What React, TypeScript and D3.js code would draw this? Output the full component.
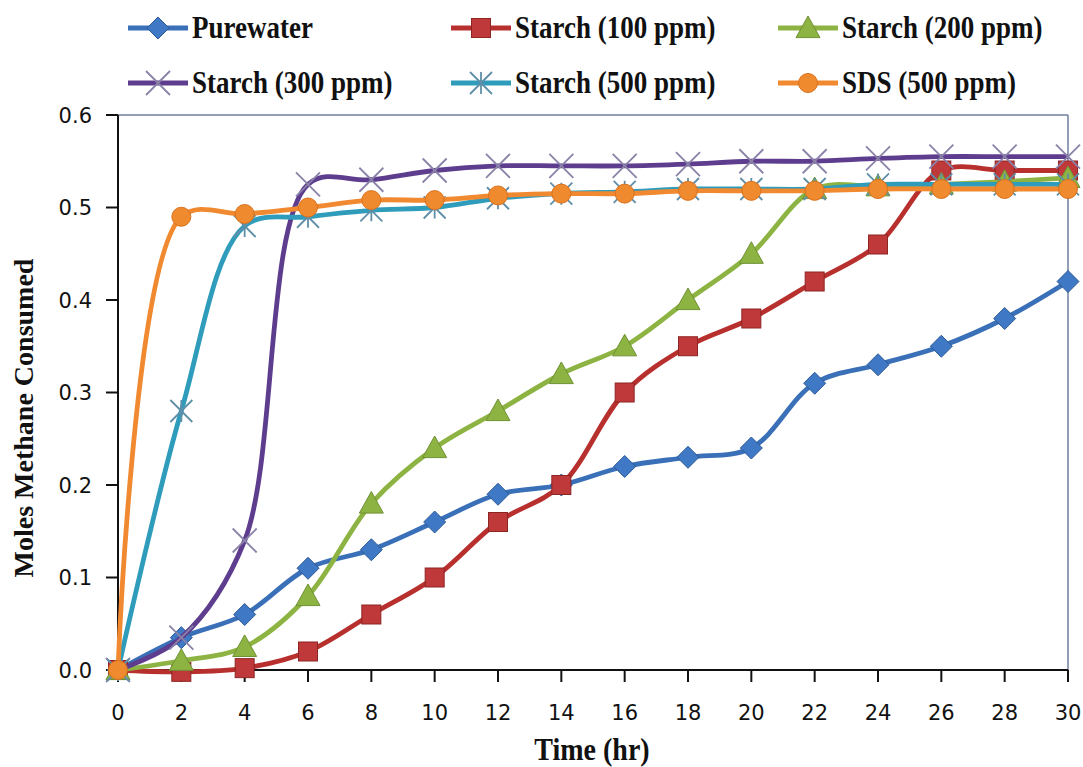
import React from "react";
import * as d3 from "d3";

// Time axis (hours) and methane uptake per series
const hours = [0, 2, 4, 6, 8, 10, 12, 14, 16, 18, 20, 22, 24, 26, 28, 30];
const pureWater = [0, 0.035, 0.06, 0.11, 0.13, 0.16, 0.19, 0.2, 0.22, 0.23, 0.24, 0.31, 0.33, 0.35, 0.38, 0.42];
const starch100 = [0, -0.002, 0.002, 0.02, 0.06, 0.1, 0.16, 0.2, 0.3, 0.35, 0.38, 0.42, 0.46, 0.54, 0.54, 0.54];
const starch200 = [0, 0.01, 0.025, 0.08, 0.18, 0.24, 0.28, 0.32, 0.35, 0.4, 0.45, 0.52, 0.523, 0.525, 0.528, 0.532];
const starch300 = [0, 0.035, 0.14, 0.525, 0.53, 0.54, 0.545, 0.545, 0.545, 0.547, 0.55, 0.55, 0.553, 0.555, 0.555, 0.555];
const starch500 = [0, 0.28, 0.48, 0.49, 0.497, 0.5, 0.51, 0.515, 0.517, 0.52, 0.52, 0.52, 0.525, 0.525, 0.525, 0.525];
const sds500 = [0, 0.49, 0.493, 0.5, 0.508, 0.508, 0.513, 0.515, 0.515, 0.518, 0.518, 0.518, 0.52, 0.52, 0.52, 0.52];

const seriesNames = ["Purewater", "Starch (100 ppm)", "Starch (200 ppm)", "Starch (300 ppm)", "Starch (500 ppm)", "SDS (500 ppm)"];
const xTicks = [0, 2, 4, 6, 8, 10, 12, 14, 16, 18, 20, 22, 24, 26, 28, 30];
const yTicks = [0, 0.1, 0.2, 0.3, 0.4, 0.5, 0.6];

type MarkerKind = "diamond" | "square" | "triangle" | "cross" | "star" | "circle";

const seriesList: { name: string; values: number[]; color: string; marker: MarkerKind; markColor: string }[] = [
  { name: seriesNames[0], values: pureWater, color: "#3a70b8", marker: "diamond", markColor: "#3f78c4" },
  { name: seriesNames[1], values: starch100, color: "#b8302e", marker: "square", markColor: "#c0393a" },
  { name: seriesNames[2], values: starch200, color: "#8db443", marker: "triangle", markColor: "#8db443" },
  { name: seriesNames[3], values: starch300, color: "#5e3d8f", marker: "cross", markColor: "#8a82a8" },
  { name: seriesNames[4], values: starch500, color: "#2f9cbc", marker: "star", markColor: "#5f8fa8" },
  { name: seriesNames[5], values: sds500, color: "#f0892f", marker: "circle", markColor: "#f08a2e" },
];

const W = 1083;
const H = 767;
const plot = { left: 118, right: 1068, top: 115, bottom: 670 };

const x = d3.scaleLinear().domain([0, 30]).range([plot.left, plot.right]);
const y = d3.scaleLinear().domain([0, 0.6]).range([plot.bottom, plot.top]);

function Marker({ kind, cx, cy, color }: { kind: MarkerKind; cx: number; cy: number; color: string }) {
  switch (kind) {
    case "diamond": {
      const r = 11;
      return <path d={`M${cx},${cy - r}L${cx + r},${cy}L${cx},${cy + r}L${cx - r},${cy}Z`} fill={color} stroke="#2d5a96" strokeWidth={1} />;
    }
    case "square": {
      const s = 19;
      return <rect x={cx - s / 2} y={cy - s / 2} width={s} height={s} fill={color} stroke="#8e2525" strokeWidth={1} />;
    }
    case "triangle": {
      const r = 12;
      return <path d={`M${cx},${cy - r}L${cx + r},${cy + r * 0.8}L${cx - r},${cy + r * 0.8}Z`} fill={color} stroke="#6f9133" strokeWidth={1} />;
    }
    case "cross": {
      const r = 12;
      return (
        <path d={`M${cx - r},${cy - r}L${cx + r},${cy + r}M${cx - r},${cy + r}L${cx + r},${cy - r}`} stroke={color} strokeWidth={1.8} fill="none" />
      );
    }
    case "star": {
      const r = 11;
      return (
        <path
          d={`M${cx - r},${cy - r}L${cx + r},${cy + r}M${cx - r},${cy + r}L${cx + r},${cy - r}M${cx},${cy - r}L${cx},${cy + r}`}
          stroke={color}
          strokeWidth={1.8}
          fill="none"
        />
      );
    }
    case "circle":
      return <circle cx={cx} cy={cy} r={9.5} fill={color} stroke="#d97220" strokeWidth={1} />;
  }
}

export default function App() {
  const line = d3
    .line<number>()
    .x((_, i) => x(hours[i]))
    .y((d) => y(d))
    .curve(d3.curveCatmullRom.alpha(0.5));

  const tickFont = "'DejaVu Sans', 'Open Sans', sans-serif";
  const serif = "'Liberation Serif', 'DejaVu Serif', serif";

  const legendPos = [
    { lx: 128, ly: 28 },
    { lx: 451, ly: 28 },
    { lx: 778, ly: 28 },
    { lx: 128, ly: 83 },
    { lx: 451, ly: 83 },
    { lx: 778, ly: 83 },
  ];

  return (
    <svg width={W} height={H} style={{ position: "absolute", left: 0, top: 0, background: "#fff" }}>
      <rect x={0} y={0} width={W} height={H} fill="#fff" />

      {/* plot frame: top and right borders */}
      <line x1={plot.left} x2={plot.right} y1={plot.top} y2={plot.top} stroke="#6e7f9e" strokeWidth={1.5} />
      <line x1={plot.right} x2={plot.right} y1={plot.top} y2={plot.bottom} stroke="#6e7f9e" strokeWidth={1.5} />

      {/* y axis */}
      <line x1={plot.left} x2={plot.left} y1={plot.top} y2={plot.bottom} stroke="#111" strokeWidth={2} />
      {yTicks.map((t) => (
        <g key={t}>
          <line x1={plot.left - 12} x2={plot.left} y1={y(t)} y2={y(t)} stroke="#111" strokeWidth={2} />
          <text x={plot.left - 26} y={y(t)} dy="0.36em" textAnchor="end" fontFamily={tickFont} fontSize={21} fill="#111">
            {d3.format(".1f")(t)}
          </text>
        </g>
      ))}

      {/* x axis */}
      <line x1={plot.left} x2={plot.right} y1={plot.bottom} y2={plot.bottom} stroke="#111" strokeWidth={2} />
      {xTicks.map((t) => (
        <g key={t}>
          <line x1={x(t)} x2={x(t)} y1={plot.bottom} y2={plot.bottom + 12} stroke="#111" strokeWidth={2} />
          <text x={x(t)} y={plot.bottom + 50} textAnchor="middle" fontFamily={tickFont} fontSize={21} fill="#111">
            {t}
          </text>
        </g>
      ))}

      {/* axis titles */}
      <text
        transform={`translate(592, 760) scale(1, 1.15)`}
        textAnchor="middle"
        fontFamily={serif}
        fontWeight="bold"
        fontSize={28}
        fill="#111"
      >
        Time (hr)
      </text>
      <text
        transform={`translate(33, 418) rotate(-90)`}
        textAnchor="middle"
        fontFamily={serif}
        fontWeight="bold"
        fontSize={28}
        fill="#111"
      >
        Moles Methane Consumed
      </text>

      {/* series */}
      {seriesList.map((s) => (
        <g key={s.name}>
          <path d={line(s.values) || ""} fill="none" stroke={s.color} strokeWidth={4.8} strokeLinejoin="round" />
          {s.values.map((v, i) => (
            <Marker key={i} kind={s.marker} cx={x(hours[i])} cy={y(v)} color={s.markColor} />
          ))}
        </g>
      ))}

      {/* legend */}
      {seriesList.map((s, i) => {
        const p = legendPos[i];
        return (
          <g key={s.name}>
            <line x1={p.lx} x2={p.lx + 60} y1={p.ly} y2={p.ly} stroke={s.color} strokeWidth={4.8} />
            <Marker kind={s.marker} cx={p.lx + 30} cy={p.ly} color={s.markColor} />
            <text
              transform={`translate(${p.lx + 64}, ${p.ly + 10}) scale(1, 1.15)`}
              fontFamily={serif}
              fontWeight="bold"
              fontSize={27}
              fill="#111"
            >
              {s.name}
            </text>
          </g>
        );
      })}
    </svg>
  );
}
